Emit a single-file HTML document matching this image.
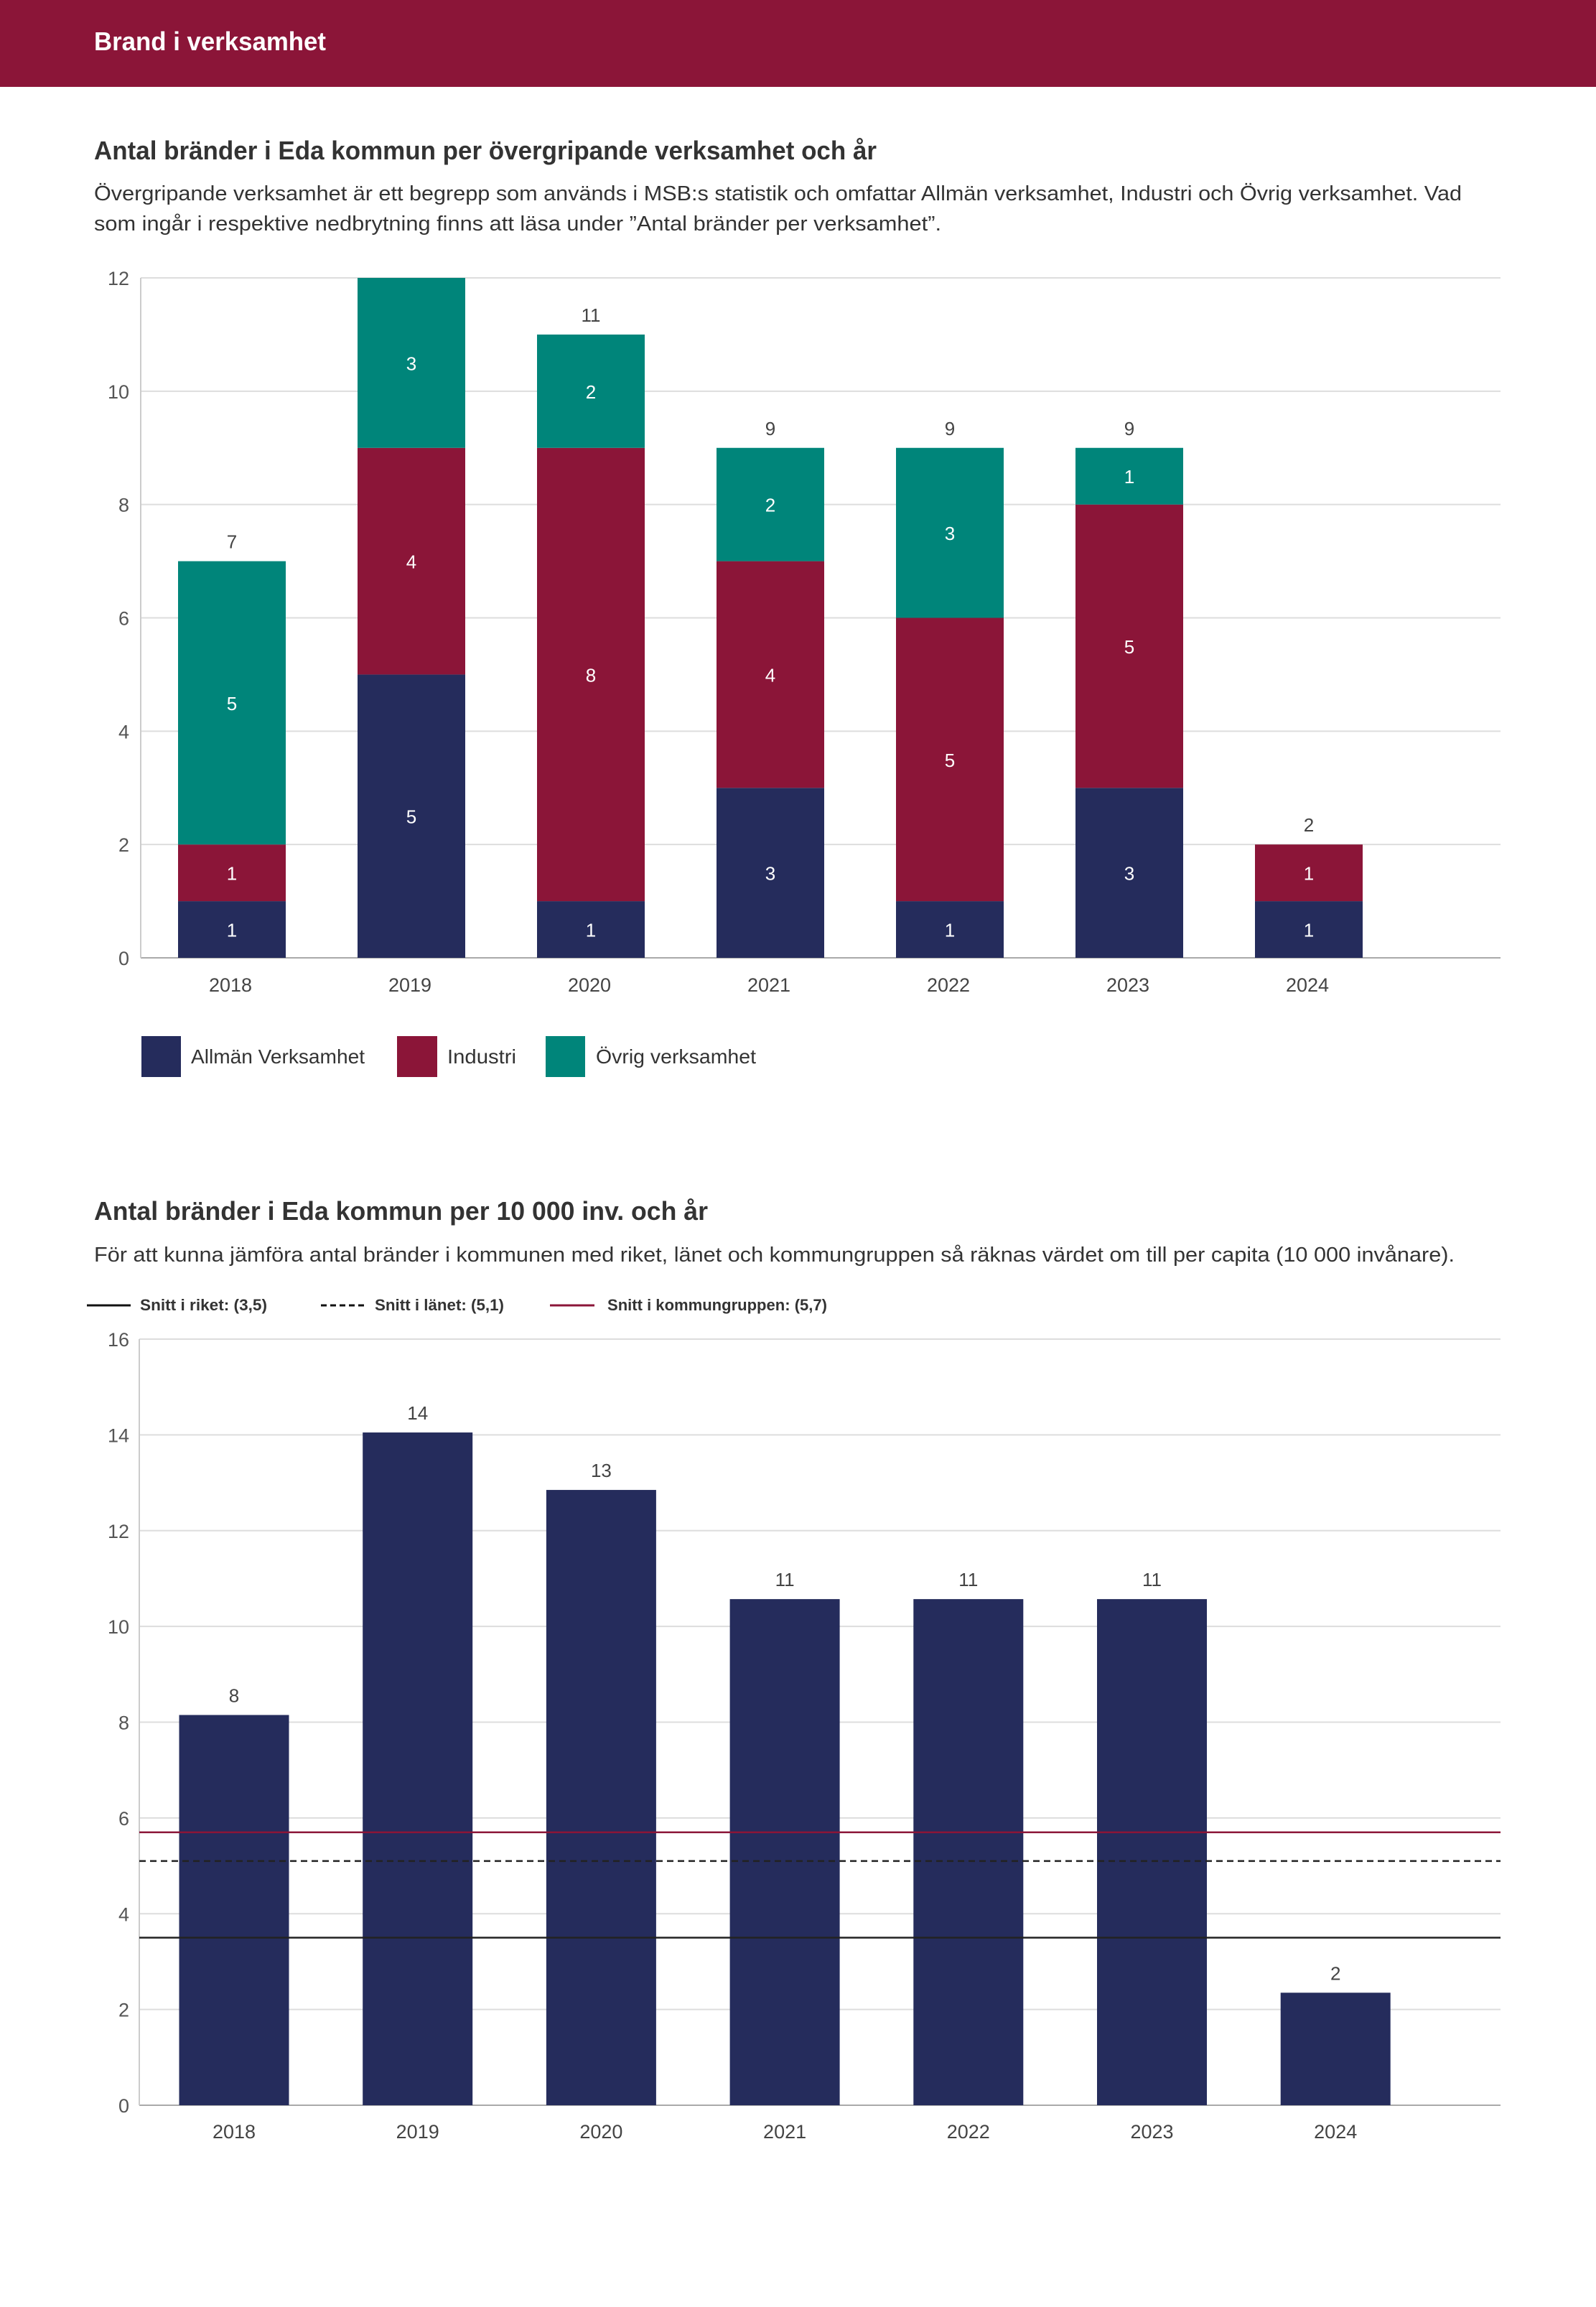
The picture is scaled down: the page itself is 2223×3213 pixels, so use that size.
<!DOCTYPE html>
<html><head><meta charset="utf-8"><style>
html,body{margin:0;padding:0;background:#fff;}
svg{display:block;font-family:"Liberation Sans",sans-serif;}
</style></head><body>
<svg id="page" width="2223" height="3213" viewBox="0 0 2223 3213" xmlns="http://www.w3.org/2000/svg">
<rect x="0" y="0" width="2223" height="121" fill="#8b1538"/>
<text x="131" y="70" font-size="36" font-weight="bold" fill="#fff" textLength="323" lengthAdjust="spacingAndGlyphs">Brand i verksamhet</text>

<text x="131" y="222" font-size="36" font-weight="bold" fill="#333" textLength="1090" lengthAdjust="spacingAndGlyphs">Antal bränder i Eda kommun per övergripande verksamhet och år</text>
<text x="131" y="279" font-size="29" fill="#333" textLength="1905" lengthAdjust="spacingAndGlyphs">Övergripande verksamhet är ett begrepp som används i MSB:s statistik och omfattar Allmän verksamhet, Industri och Övrig verksamhet. Vad</text>
<text x="131" y="321" font-size="29" fill="#333" textLength="1180" lengthAdjust="spacingAndGlyphs">som ingår i respektive nedbrytning finns att läsa under ”Antal bränder per verksamhet”.</text>
<g id="chart1"></g>
<g>
<rect x="197" y="1443" width="55" height="57" fill="#252c5c"/>
<text x="266" y="1481" font-size="28" fill="#333" textLength="242" lengthAdjust="spacingAndGlyphs">Allmän Verksamhet</text>
<rect x="553" y="1443" width="56" height="57" fill="#8b1538"/>
<text x="623" y="1481" font-size="28" fill="#333" textLength="96" lengthAdjust="spacingAndGlyphs">Industri</text>
<rect x="760" y="1443" width="55" height="57" fill="#00857a"/>
<text x="830" y="1481" font-size="28" fill="#333" textLength="223" lengthAdjust="spacingAndGlyphs">Övrig verksamhet</text>
</g>

<text x="131" y="1699" font-size="36" font-weight="bold" fill="#333" textLength="855" lengthAdjust="spacingAndGlyphs">Antal bränder i Eda kommun per 10 000 inv. och år</text>
<text x="131" y="1757" font-size="29" fill="#333" textLength="1895" lengthAdjust="spacingAndGlyphs">För att kunna jämföra antal bränder i kommunen med riket, länet och kommungruppen så räknas värdet om till per capita (10 000 invånare).</text>
<g>
<line x1="121" y1="1818" x2="182" y2="1818" stroke="#111" stroke-width="3"/>
<text x="195" y="1825" font-size="22" font-weight="bold" fill="#333" textLength="177" lengthAdjust="spacingAndGlyphs">Snitt i riket: (3,5)</text>
<line x1="447" y1="1818" x2="508" y2="1818" stroke="#111" stroke-width="3" stroke-dasharray="8,5"/>
<text x="522" y="1825" font-size="22" font-weight="bold" fill="#333" textLength="180" lengthAdjust="spacingAndGlyphs">Snitt i länet: (5,1)</text>
<line x1="766" y1="1818" x2="828" y2="1818" stroke="#8b1538" stroke-width="3"/>
<text x="846" y="1825" font-size="22" font-weight="bold" fill="#333" textLength="306" lengthAdjust="spacingAndGlyphs">Snitt i kommungruppen: (5,7)</text>
</g>
<g id="chart2"></g>
</svg>
<script>
const years = ["2018","2019","2020","2021","2022","2023","2024"];
const allman = [1,5,1,3,1,3,1];
const industri = [1,4,8,4,5,5,1];
const ovrig = [5,3,2,2,3,1,0];
const yTicks1 = [0,2,4,6,8,10,12];
const perCapita = [8.15,14.05,12.85,10.57,10.57,10.57,2.35];
const perCapitaLabels = ["8","14","13","11","11","11","2"];
const yTicks2 = [0,2,4,6,8,10,12,14,16];
const snittRiket = 3.5;
const snittLanet = 5.1;
const snittKommun = 5.7;

const NS = "http://www.w3.org/2000/svg";
function mk(parent, tag, attrs, txt){
  const e = document.createElementNS(NS, tag);
  for (const k in attrs) e.setAttribute(k, attrs[k]);
  if (txt !== undefined) e.textContent = txt;
  parent.appendChild(e);
  return e;
}

// Chart 1
(function(){
  const g = document.getElementById('chart1');
  const x0 = 196, x1 = 2090, y0 = 1334, yTop = 387, vmax = 12;
  const band = 250, bw = 150;
  const ys = v => y0 - (v / vmax) * (y0 - yTop);
  const xc = i => x0 + band * (i + 0.5) + 2;
  yTicks1.forEach(t => {
    const l = mk(g, 'line', {x1: x0, x2: x1, y1: ys(t), y2: ys(t), stroke: t === 0 ? '#aaa' : '#ddd', 'stroke-width': 2});
    
    
    const tx = mk(g, 'text', {x: 180, y: ys(t) + 10, 'text-anchor': 'end', 'font-size': 27, fill: '#555'}, t);
    
    
  });
  const ax = mk(g, 'line', {x1: x0, x2: x0, y1: yTop, y2: y0, stroke: '#ccc', 'stroke-width': 2});
  
  
  const series = [[allman, '#252c5c', 'allman'], [industri, '#8b1538', 'industri'], [ovrig, '#00857a', 'ovrig']];
  years.forEach((yr, i) => {
    let base = 0;
    series.forEach(([arr, col, nm]) => {
      const v = arr[i];
      if (v > 0) {
        const r = mk(g, 'rect', {x: xc(i) - bw / 2, y: ys(base + v), width: bw, height: ys(base) - ys(base + v), fill: col});
        
        
        const t = mk(g, 'text', {x: xc(i), y: (ys(base) + ys(base + v)) / 2 + 10, 'text-anchor': 'middle', 'font-size': 26, fill: '#fff'}, v);
        
        
      }
      base += v;
    });
    if (base < vmax) {
      const tt = mk(g, 'text', {x: xc(i), y: ys(base) - 18, 'text-anchor': 'middle', 'font-size': 26, fill: '#444'}, base);
      
      
    }
    const xl = mk(g, 'text', {x: xc(i) - 2, y: 1381, 'text-anchor': 'middle', 'font-size': 27, fill: '#444'}, yr);
    
    
  });
})();

// Chart 2
(function(){
  const g = document.getElementById('chart2');
  const x0 = 194, x1 = 2090, y0 = 2932, yTop = 1865, vmax = 16;
  const band = 255.7, bw = 153;
  const ys = v => y0 - (v / vmax) * (y0 - yTop);
  const xc = i => 326 + band * i;
  yTicks2.forEach(t => {
    const l = mk(g, 'line', {x1: x0, x2: x1, y1: ys(t), y2: ys(t), stroke: t === 0 ? '#aaa' : '#ddd', 'stroke-width': 2});
    
    
    const tx = mk(g, 'text', {x: 180, y: ys(t) + 10, 'text-anchor': 'end', 'font-size': 27, fill: '#555'}, t);
    
    
  });
  const ax = mk(g, 'line', {x1: x0, x2: x0, y1: yTop, y2: y0, stroke: '#ccc', 'stroke-width': 2});
  
  
  years.forEach((yr, i) => {
    const v = perCapita[i];
    const r = mk(g, 'rect', {x: xc(i) - bw / 2, y: ys(v), width: bw, height: y0 - ys(v), fill: '#252c5c'});
    
    
    const t = mk(g, 'text', {x: xc(i), y: ys(v) - 18, 'text-anchor': 'middle', 'font-size': 26, fill: '#444'}, perCapitaLabels[i]);
    
    
    const xl = mk(g, 'text', {x: xc(i), y: 2978, 'text-anchor': 'middle', 'font-size': 27, fill: '#444'}, yr);
    
    
  });
  const l1 = mk(g, 'line', {x1: x0, x2: x1, y1: ys(snittKommun), y2: ys(snittKommun), stroke: '#8b1538', 'stroke-width': 2.5});
  
  
  const l2 = mk(g, 'line', {x1: x0, x2: x1, y1: ys(snittLanet), y2: ys(snittLanet), stroke: '#222', 'stroke-width': 2.5, 'stroke-dasharray': '9,6'});
  
  
  const l3 = mk(g, 'line', {x1: x0, x2: x1, y1: ys(snittRiket), y2: ys(snittRiket), stroke: '#222', 'stroke-width': 2.5});
  
  
})();
</script>
</body></html>
